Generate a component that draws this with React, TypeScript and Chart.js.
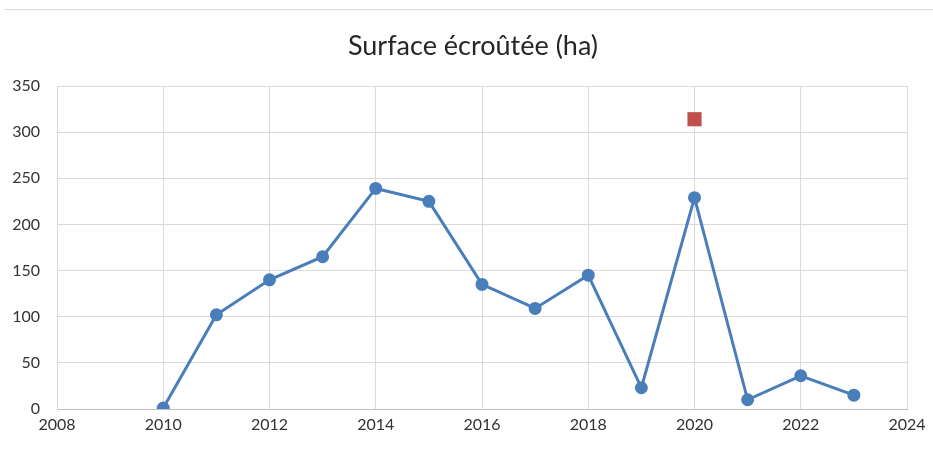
import React, { useEffect, useRef } from "react";
import { Chart, registerables } from "chart.js";

Chart.register(...registerables);

const years = [2010, 2011, 2012, 2013, 2014, 2015, 2016, 2017, 2018, 2019, 2020, 2021, 2022, 2023];
const surface = [1, 102, 140, 165, 239, 225, 135, 109, 145, 23, 229, 10, 36, 15];
const highlightYears = [2020];
const highlightValues = [314];
const title = "Surface écroûtée (ha)";

const FONT = "Lato, 'Open Sans', sans-serif";

const titlePlugin = {
  id: "customTitle",
  afterDraw(chart: any) {
    const ctx = chart.ctx;
    ctx.save();
    ctx.font = `normal 27px ${FONT}`;
    ctx.fillStyle = "#262626";
    ctx.textAlign = "center";
    ctx.textBaseline = "middle";
    ctx.fillText(title, chart.width / 2 + 6.5, 46);
    ctx.restore();
  },
};

export default function App() {
  const ref = useRef<HTMLCanvasElement | null>(null);
  useEffect(() => {
    document.body.style.margin = "0";
    const canvas = ref.current;
    if (!canvas) return;
    const chart = new Chart(canvas, {
      type: "scatter",
      data: {
        datasets: [
          {
            label: "Surface",
            data: years.map((x, i) => ({ x, y: surface[i] })),
            showLine: true,
            borderColor: "#4a7ebb",
            backgroundColor: "#4a7ebb",
            borderWidth: 3,
            pointRadius: 5,
            pointHoverRadius: 5,
            pointStyle: "circle",
          },
          {
            label: "2020",
            data: highlightYears.map((x, i) => ({ x, y: highlightValues[i] })),
            showLine: false,
            borderColor: "#c0504d",
            backgroundColor: "#c0504d",
            pointStyle: "rect",
            pointRadius: 10,
            pointHoverRadius: 10,
            borderWidth: 0,
          },
        ],
      },
      plugins: [titlePlugin],
      options: {
        animation: false,
        responsive: false,
        layout: { padding: { left: 0, right: 26, top: 86, bottom: 0 } },
        plugins: {
          legend: { display: false },
          tooltip: { enabled: false },
          title: { display: false },
        },
        scales: {
          x: {
            type: "linear",
            min: 2008,
            max: 2024,
            ticks: {
              stepSize: 2,
              color: "#333333",
              font: { family: FONT, size: 16 },
              padding: 6,
              callback: (v: any) => String(v),
              maxRotation: 0,
            },
            grid: { color: "#d9d9d9", lineWidth: 1, drawTicks: false },
            border: { color: "#bfbfbf", width: 1 },
            afterFit: (s: any) => {
              s.height = 43;
            },
          },
          y: {
            min: 0,
            max: 350,
            ticks: {
              stepSize: 50,
              color: "#333333",
              font: { family: FONT, size: 16 },
              padding: 17,
            },
            grid: { color: "#d9d9d9", lineWidth: 1, drawTicks: false },
            border: { color: "#d9d9d9", width: 1 },
            afterFit: (s: any) => {
              s.width = 57;
            },
          },
        },
      },
    });
    return () => chart.destroy();
  }, []);
  return (
    <div style={{ position: "relative", width: 933, height: 452, background: "#fff" }}>
      <div style={{ position: "absolute", top: 9, left: 4, right: 0, height: 1, background: "#d9d9d9" }} />
      <canvas ref={ref} width={933} height={452} style={{ display: "block" }} />
    </div>
  );
}
